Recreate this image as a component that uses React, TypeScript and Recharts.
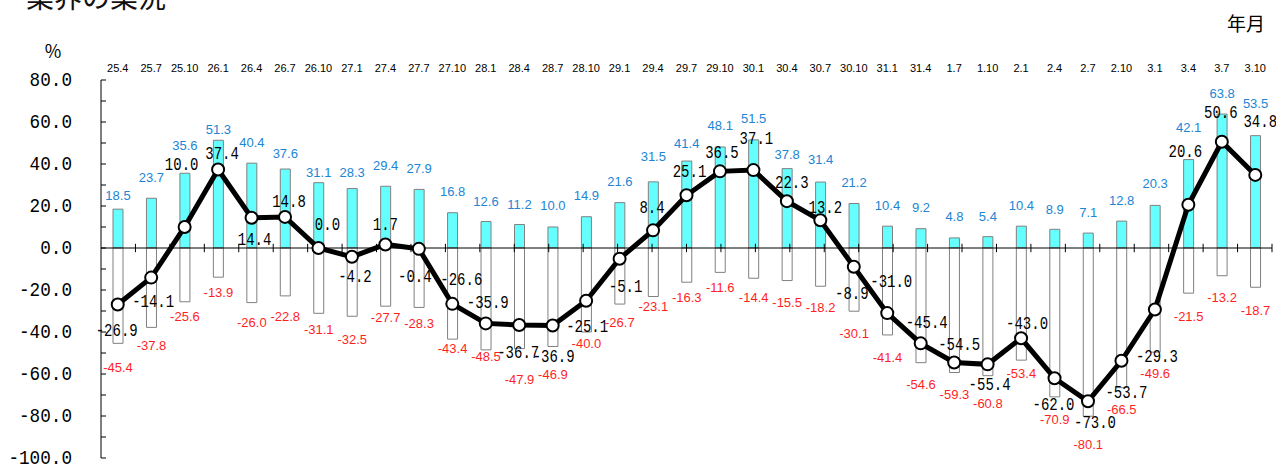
import { Bar, ComposedChart, LabelList, Line, ReferenceLine, XAxis, YAxis } from "recharts";

// 年月 (和暦) – 調査時点
const periods = [
  "25.4", "25.7", "25.10", "26.1", "26.4", "26.7", "26.10", "27.1", "27.4", "27.7",
  "27.10", "28.1", "28.4", "28.7", "28.10", "29.1", "29.4", "29.7", "29.10", "30.1",
  "30.4", "30.7", "30.10", "31.1", "31.4", "1.7", "1.10", "2.1", "2.4", "2.7",
  "2.10", "3.1", "3.4", "3.7", "3.10",
];

// 「良い」等の回答割合 (上向きの棒)
const upShare = [
  18.5, 23.7, 35.6, 51.3, 40.4, 37.6, 31.1, 28.3, 29.4, 27.9,
  16.8, 12.6, 11.2, 10.0, 14.9, 21.6, 31.5, 41.4, 48.1, 51.5,
  37.8, 31.4, 21.2, 10.4, 9.2, 4.8, 5.4, 10.4, 8.9, 7.1,
  12.8, 20.3, 42.1, 63.8, 53.5,
];

// 「悪い」等の回答割合 (下向きの棒)
const downShare = [
  -45.4, -37.8, -25.6, -13.9, -26.0, -22.8, -31.1, -32.5, -27.7, -28.3,
  -43.4, -48.5, -47.9, -46.9, -40.0, -26.7, -23.1, -16.3, -11.6, -14.4,
  -15.5, -18.2, -30.1, -41.4, -54.6, -59.3, -60.8, -53.4, -70.9, -80.1,
  -66.5, -49.6, -21.5, -13.2, -18.7,
];

// 業況判断 DI (折れ線)
const di = [
  -26.9, -14.1, 10.0, 37.4, 14.4, 14.8, 0.0, -4.2, 1.7, -0.4,
  -26.6, -35.9, -36.7, -36.9, -25.1, -5.1, 8.4, 25.1, 36.5, 37.1,
  22.3, 13.2, -8.9, -31.0, -45.4, -54.5, -55.4, -43.0, -62.0, -73.0,
  -53.7, -29.3, 20.6, 50.6, 34.8,
];

const yTicks = [-100, -90, -80, -70, -60, -50, -40, -30, -20, -10, 0, 10, 20, 30, 40, 50, 60, 70, 80];

// label placement, hand tuned like the original (px)
const diLabelShift: [number, number][] = [
  [-1, 27], [2, 24], [-3, -62], [4, -15], [3, 22], [4, -15], [9, -23], [3, 20], [0, -19], [-4, 28],
  [9, -24], [2, -20], [-1, 28], [1, 32], [1, 26], [6, 28], [-1, -22], [3, -23], [2, -18], [3, -31],
  [5, -18], [5, -12], [-2, 27], [4, -31], [6, -20], [5, -17], [2, 21], [6, -14], [-1, 27], [7, 22],
  [5, 32], [2, 47], [-3, -53], [-1, -29], [5, -53],
];
const upLabelLift = [
  14, 21, 28, 11, 21, 16, 10, 16, 21, 21,
  21, 20, 20, 22, 21, 21, 25, 18, 21, 21,
  14, 23, 21, 21, 21, 21, 20, 21, 20, 21,
  21, 22, 32, 21, 32,
];
const downLabelDrop = [
  24, 18, 15, 15, 20, 21, 16, 23, 11, 16,
  9, 7, 31, 28, 11, 18, 10, 15, 15, 19,
  22, 21, 22, 23, 22, 22, 28, 13, 23, 28,
  22, 21, 23, 22, 23,
];

const data = periods.map((p, i) => ({ period: p, up: upShare[i], down: downShare[i], di: di[i] }));

const MONO = "'Liberation Mono', 'DejaVu Sans Mono', monospace";
const SANS = "'Liberation Sans', Arial, sans-serif";
const JP = "'Noto Sans CJK JP', sans-serif";

const BLUE = "#2185d5";
const RED = "#ff1f1f";

function boxOf(props: any) {
  const vb = props.viewBox ?? {};
  const x = Number(props.x ?? vb.x ?? 0);
  const y = Number(props.y ?? vb.y ?? 0);
  const w = Number(props.width ?? vb.width ?? 0);
  const h = Number(props.height ?? vb.height ?? 0);
  return { x, y, w, h };
}

// MS Gothic-ish narrow mono digits: squeeze a mono font to a half-width cell
function MonoText({ x, y, text, size, cell, anchor = "middle" }: any) {
  return (
    <text x={x} y={y} textAnchor={anchor} dominantBaseline="central" fontFamily={MONO}
      fontSize={size} fill="#000" textLength={text.length * cell} lengthAdjust="spacingAndGlyphs">
      {text}
    </text>
  );
}

function UpLabel(props: any) {
  const { x, y, w, h } = boxOf(props);
  const top = Math.min(y, y + h);
  return (
    <text x={x + w / 2} y={top - (upLabelLift[props.index] ?? 20)} textAnchor="middle"
      dominantBaseline="central" fontFamily={SANS} fontSize={13} fill={BLUE}>
      {Number(props.value).toFixed(1)}
    </text>
  );
}

function DownLabel(props: any) {
  const { x, y, w, h } = boxOf(props);
  const bottom = Math.max(y, y + h);
  return (
    <text x={x + w / 2} y={bottom + (downLabelDrop[props.index] ?? 18)} textAnchor="middle"
      dominantBaseline="central" fontFamily={SANS} fontSize={13} fill={RED}>
      {Number(props.value).toFixed(1)}
    </text>
  );
}

function DiLabel(props: any) {
  const { x, y } = boxOf(props);
  const [dx, dy] = diLabelShift[props.index] ?? [0, -18];
  return <MonoText x={x + dx} y={y + dy} text={Number(props.value).toFixed(1)} size={18} cell={8.4} />;
}

function YTick(props: any) {
  const v = Number(props.payload?.value);
  if (v % 20 !== 0) return null;
  return <MonoText x={props.x} y={props.y} text={v.toFixed(1)} size={21} cell={10.6} anchor="end" />;
}

export default function App() {
  return (
    <div style={{ position: "absolute", left: 0, top: 0, width: 1276, height: 466, background: "#fff" }}>
      <ComposedChart
        width={1276}
        height={466}
        data={data}
        stackOffset="sign"
        margin={{ top: 50, right: 4, bottom: 8, left: 0 }}
      >
        <XAxis
          xAxisId="cat"
          dataKey="period"
          orientation="top"
          height={30}
          interval={0}
          axisLine={false}
          tickLine={false}
          tickSize={0}
          tickMargin={8}
          tick={{ fontSize: 11, fill: "#000", fontFamily: SANS }}
        />
        <XAxis xAxisId="num" type="number" domain={[0, 35]} allowDataOverflow hide />
        <YAxis
          domain={[-100, 80]}
          ticks={yTicks}
          interval={0}
          width={101}
          allowDataOverflow
          tickSize={-5}
          tickMargin={34}
          axisLine={{ stroke: "#000" }}
          tickLine={{ stroke: "#000" }}
          tick={YTick}
        />

        <ReferenceLine xAxisId="num" y={0} stroke="#000" strokeWidth={1} />
        {periods.map((_, i) => (
          <ReferenceLine
            key={"zt" + i}
            xAxisId="num"
            segment={[{ x: i + 1, y: -2 }, { x: i + 1, y: 2 }]}
            stroke="#000"
            strokeWidth={1}
          />
        ))}

        <Bar xAxisId="cat" dataKey="up" stackId="s" barSize={10} fill="#66ffff" stroke="#808080" strokeWidth={1} isAnimationActive={false}>
          <LabelList dataKey="up" content={UpLabel} />
        </Bar>
        <Bar xAxisId="cat" dataKey="down" stackId="s" barSize={10} fill="#ffffff" stroke="#808080" strokeWidth={1} isAnimationActive={false}>
          <LabelList dataKey="down" content={DownLabel} />
        </Bar>
        <Line
          xAxisId="cat"
          dataKey="di"
          stroke="#000"
          strokeWidth={5}
          dot={{ r: 6, fill: "#fff", stroke: "#000", strokeWidth: 2 }}
          isAnimationActive={false}
        >
          <LabelList dataKey="di" content={DiLabel} />
        </Line>
      </ComposedChart>

      <svg width={1276} height={466} style={{ position: "absolute", left: 0, top: 0, pointerEvents: "none" }}>
        <text x={26} y={8} fontFamily={JP} fontSize={28} fill="#111">業界の業況</text>
        <text x={53} y={50} textAnchor="middle" dominantBaseline="central" fontFamily={JP} fontSize={18} fill="#000">%</text>
        <text x={1246} y={22} textAnchor="middle" dominantBaseline="central" fontFamily={JP} fontSize={19} fill="#000">年月</text>
      </svg>
    </div>
  );
}
